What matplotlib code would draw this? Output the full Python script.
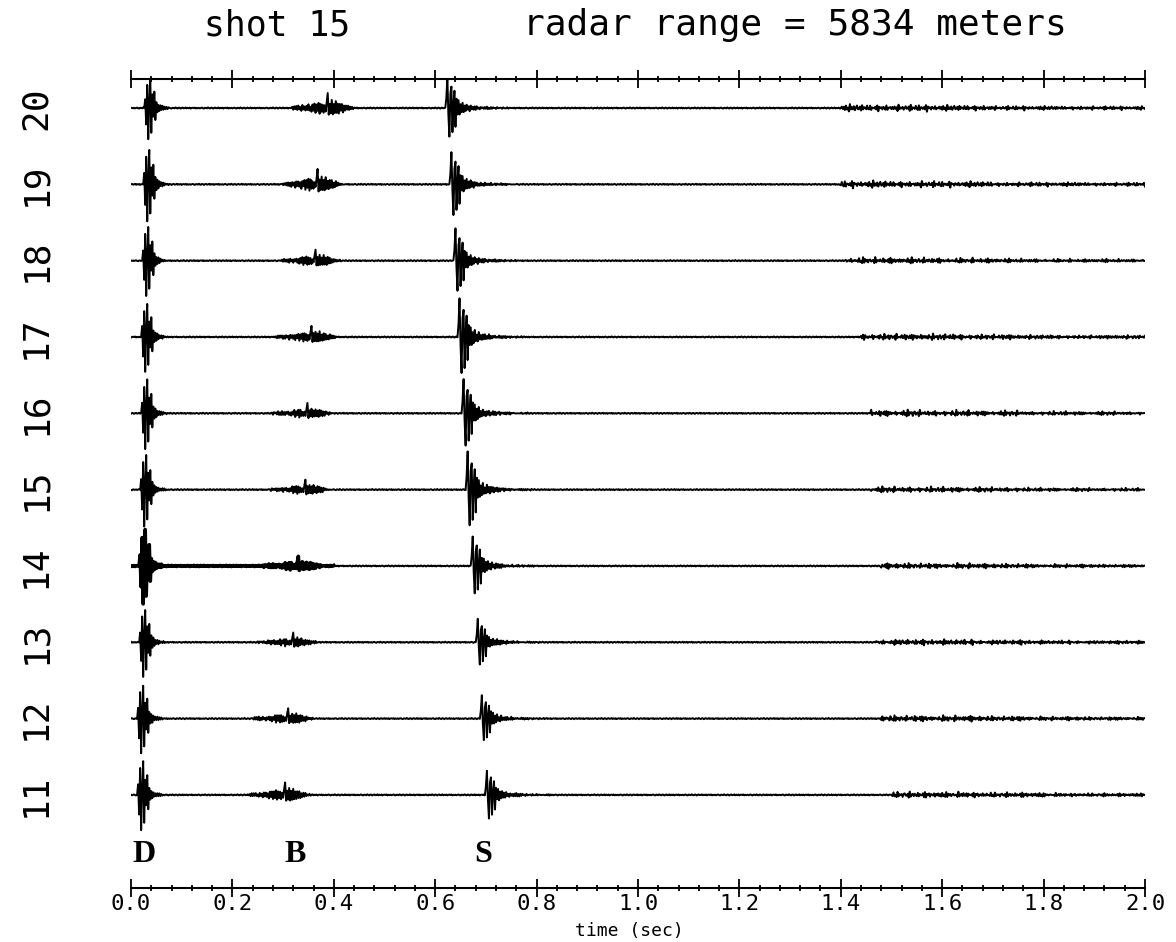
import numpy as np
import matplotlib.pyplot as plt
from matplotlib.ticker import MultipleLocator
from matplotlib.transforms import blended_transform_factory

# sample interval of the traces (sec)
DT = 0.002

# channels, bottom to top
CHANNELS = [11, 12, 13, 14, 15, 16, 17, 18, 19, 20]

# direct arrival (D): onset time and gain (in trace spacings)
D_ONSET = [0.012, 0.013, 0.015, 0.016, 0.018, 0.019, 0.020, 0.022, 0.023, 0.026]
D_GAIN = [0.46, 0.46, 0.45, 0.50, 0.48, 0.47, 0.46, 0.46, 0.48, 0.40]

# B arrival: time of the biggest swing and gain
B_PEAK = [0.304, 0.310, 0.320, 0.330, 0.343, 0.349, 0.357, 0.365, 0.369, 0.387]
B_GAIN = [0.17, 0.14, 0.12, 0.12, 0.13, 0.13, 0.15, 0.15, 0.20, 0.20]

# S arrival: onset time and gain
S_ONSET = [0.698, 0.688, 0.680, 0.670, 0.660, 0.653, 0.645, 0.637, 0.627, 0.621]
S_GAIN = [0.32, 0.30, 0.30, 0.38, 0.50, 0.45, 0.50, 0.42, 0.42, 0.40]

# late noisy part of each trace
LATE_ONSET = [1.50, 1.48, 1.47, 1.48, 1.46, 1.46, 1.44, 1.41, 1.40, 1.40]
LATE_GAIN = [0.045, 0.045, 0.040, 0.040, 0.040, 0.045, 0.045, 0.045, 0.050, 0.050]
LATE_ENVELOPE = [1.0, 0.9, 0.8, 0.55, 0.5, 0.45, 0.45]  # per 0.1 s after onset
NOISE_SHIFT = [0, 7, 13, 21, 5, 30, 17, 11, 26, 3]
BG_GAIN = 0.010

# wavelet shapes (peak = 1), one value per sample
D_WAVELET = [0.0, 0.3, -0.55, 0.75, -1.0, 0.2, 0.95, -0.8, 0.45, -0.3, 0.55, -0.4,
             0.2, -0.15, 0.12, -0.1, 0.08, -0.06, 0.06, -0.04, 0.04, -0.03, 0.03,
             -0.02, 0.02, -0.01, 0.0]
B_WAVELET = [0.0, 0.05, -0.08, 0.1, -0.05, 0.12, -0.1, 0.15, -0.12, 0.08, -0.15, 0.18,
             -0.1, 0.12, -0.2, 0.15, -0.1, 0.22, -0.18, 0.12, -0.25, 0.2, -0.15, 0.3,
             -0.35, 0.25, -0.2, 0.35, -0.4, 0.3, -0.25, 0.2, -0.3, 0.15, -0.2, 0.4,
             1.0, -0.45, 0.3, -0.35, 0.5, -0.4, 0.3, -0.35, 0.45, -0.3, 0.25, -0.35,
             0.3, -0.2, 0.25, -0.25, 0.15, -0.2, 0.18, -0.1, 0.12, -0.1, 0.08, -0.06,
             0.05, -0.04, 0.02, 0.0]
B_PEAK_INDEX = 36
S_WAVELET = [0.0, 0.35, 1.0, -0.2, -0.95, 0.5, 0.7, -0.8, 0.1, 0.55, -0.6, 0.3, -0.2,
             0.25, -0.2, 0.12, -0.15, 0.18, -0.12, 0.07, -0.1, 0.12, -0.07, 0.06, -0.09,
             0.07, -0.05, 0.06, -0.06, 0.04, -0.05, 0.06, -0.04, 0.03, -0.05, 0.04, -0.02,
             0.04, -0.03, 0.02, -0.02, 0.03, -0.02, 0.01, -0.02, 0.02, -0.01, 0.02,
             -0.02, 0.01, -0.01, 0.02, -0.01, 0.01, -0.01, 0.01, -0.01, 0.01, -0.01,
             0.01, -0.01, 0.01, -0.01, 0.01, -0.01, 0.01, 0.0]
BG_NOISE = [0.3, -0.5, 0.2, 0.6, -0.3, -0.7, 0.4, 0.1, -0.4, 0.8, -0.2, -0.6, 0.5, 0.3,
            -0.8, 0.2, 0.6, -0.4, -0.1, 0.7, -0.5, 0.3, -0.3, 0.5, -0.7, 0.1, 0.4, -0.2,
            0.6, -0.6, 0.2, -0.4]
LATE_NOISE = [0.2, -0.4, 0.6, -0.3, 0.1, -0.8, 1.0, -0.5, 0.3, -0.2, 0.4, -0.6, 0.2, 0.5,
              -0.3, -0.1, 0.3, -0.7, 0.9, -0.4, 0.1, 0.2, -0.3, 0.5, -0.2, -0.4, 0.7,
              -0.6, 0.3, 0.0, -0.2, 0.4, -0.5, 0.8, -0.9, 0.4, -0.1, 0.3, -0.4, 0.2, 0.1,
              -0.3, 0.6, -0.5, 0.2, -0.1, 0.3, -0.2]

# phase labels under the traces
PHASE_NAMES = ['D', 'B', 'S']
PHASE_TIMES = [0.026, 0.323, 0.695]

SHOT = 15
RADAR_RANGE = 5834
THICK_CHANNEL = 14
THICK_END = 0.40


def add_wavelet(trace, wavelet, t0, gain):
    """Add a wavelet into trace starting at time t0."""
    i0 = int(round(t0 / DT))
    w = np.asarray(wavelet, dtype=float) * gain
    n = min(len(w), len(trace) - i0)
    trace[i0:i0 + n] += w[:n]


def build_trace(k, n):
    trace = np.roll(np.resize(BG_NOISE, n), NOISE_SHIFT[k]) * BG_GAIN
    add_wavelet(trace, D_WAVELET, D_ONSET[k], D_GAIN[k])
    add_wavelet(trace, B_WAVELET, B_PEAK[k] - B_PEAK_INDEX * DT, B_GAIN[k])
    add_wavelet(trace, S_WAVELET, S_ONSET[k], S_GAIN[k])

    i0 = int(round(LATE_ONSET[k] / DT))
    m = n - i0
    late = np.resize(np.roll(LATE_NOISE, NOISE_SHIFT[k]), m)
    env = np.repeat(LATE_ENVELOPE, int(round(0.1 / DT)))
    env = np.concatenate([env, np.full(max(0, m - len(env)), LATE_ENVELOPE[-1])])[:m]
    trace[i0:] += late * env * LATE_GAIN[k]
    return trace


t = np.arange(0, 2.0 + DT / 2, DT)

fig = plt.figure(figsize=(11.76, 9.42), dpi=100)
ax = fig.add_axes([0.1114, 0.0573, 0.8622, 0.8588])

for k, ch in enumerate(CHANNELS):
    tr = build_trace(k, len(t))
    ax.plot(t, ch + tr, color='black', lw=1.4)
    if ch == THICK_CHANNEL:
        sel = t <= THICK_END
        ax.plot(t[sel], ch + tr[sel], color='black', lw=2.6)

ax.set_xlim(0, 2.0)
ax.set_ylim(9.78, 20.38)

# time axis drawn on top and bottom
ax.xaxis.set_major_locator(MultipleLocator(0.2))
ax.xaxis.set_minor_locator(MultipleLocator(0.04))
ax.set_xticklabels([f'{v:.1f}' for v in ax.get_xticks()],
                   family='DejaVu Sans Mono')
ax.tick_params(which='major', direction='inout', length=13, width=1.3,
               top=True, bottom=True, labeltop=False, labelsize=16, pad=-2)
ax.tick_params(which='minor', direction='inout', length=5, width=1.3,
               top=True, bottom=True)
ax.tick_params(axis='y', left=False, labelleft=False)
for side in ['left', 'right']:
    ax.spines[side].set_visible(False)
for side in ['top', 'bottom']:
    ax.spines[side].set_linewidth(1.5)

# channel numbers on the left
trans = blended_transform_factory(fig.transFigure, ax.transData)
for ch in CHANNELS:
    ax.text(0.039, ch, str(ch), transform=trans, rotation=90,
            rotation_mode='anchor', ha='center', va='baseline',
            fontsize=26, family='DejaVu Sans Mono')

# phase letters
for name, tp in zip(PHASE_NAMES, PHASE_TIMES):
    ax.text(tp, 10.12, name, ha='center', va='baseline', fontsize=23,
            fontweight='bold', family='Liberation Serif')

fig.text(0.2355, 0.9628, f'shot {SHOT}', ha='center', va='baseline',
         fontsize=25, family='DejaVu Sans Mono')
fig.text(0.676, 0.9628, f'radar range = {RADAR_RANGE} meters', ha='center',
         va='baseline', fontsize=26, family='DejaVu Sans Mono')
fig.text(0.535, 0.0064, 'time (sec)', ha='center', va='baseline',
         fontsize=13, family='DejaVu Sans Mono')

fig.savefig('out.png', dpi=100)
